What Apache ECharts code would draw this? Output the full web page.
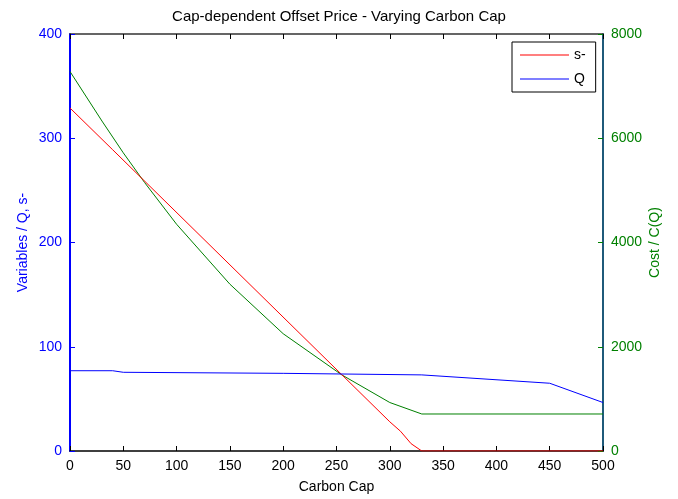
<!DOCTYPE html>
<html>
<head>
<meta charset="utf-8">
<script src="https://cdn.jsdelivr.net/npm/echarts@6/dist/echarts.min.js"></script>
<style>
  html, body { margin: 0; padding: 0; background: #fff; }
</style>
</head>
<body>
<div id="chart" style="width: 678px;height: 499px;"></div>
<script>
// values
const sMinusCap = [0, 30, 40, 300, 310, 320, 330, 500]
const sMinus = [329, 299, 289, 28, 19, 7, 0, 0]

const qCap = [0, 40, 50, 200, 330, 450, 500]
const q = [77, 77, 75.5, 74.5, 73, 65, 46.5]

const costCap = [0, 30, 50, 70, 100, 150, 200, 255, 300, 330, 500]
const cost = [7280, 6330, 5720, 5150, 4350, 3200, 2250, 1460, 930, 710, 710]

const pairs = (xs, ys) => xs.map((x, i) => [x, ys[i]])

const font = 'Liberation Sans, Arial, sans-serif'

const option = {
    backgroundColor: '#fff',
    animation: false,
    textStyle: { fontFamily: font },
    title: {
        text: 'Cap-dependent Offset Price - Varying Carbon Cap',
        left: 'center',
        top: 4,
        textStyle: { fontFamily: font, fontSize: 15, fontWeight: 'normal', color: '#000' }
    },
    legend: {
        orient: 'vertical',
        left: 512,
        top: 42,
        padding: [5, 10, 5, 8],
        icon: 'rect',
        itemWidth: 49,
        itemHeight: 1,
        itemGap: 8,
        borderColor: '#000',
        borderWidth: 1,
        backgroundColor: '#fff',
        textStyle: { fontFamily: font, fontSize: 14, color: '#000', lineHeight: 16 },
        data: ['s-', 'Q']
    },
    grid: { left: 70, right: 75, top: 34, bottom: 45 },
    xAxis: [
        {
            type: 'value',
            min: 0,
            max: 500,
            interval: 50,
            name: 'Carbon Cap',
            nameLocation: 'middle',
            nameGap: 29,
            nameMoveOverlap: false,
            nameTextStyle: { fontSize: 14, color: '#000', fontFamily: font },
            axisLine: { onZero: false, lineStyle: { color: '#000', width: 1.5 } },
            axisTick: { inside: true, length: 5, lineStyle: { color: '#000' } },
            axisLabel: { fontSize: 14, color: '#000', margin: 8, fontFamily: font },
            splitLine: { show: false }
        },
        {
            type: 'value',
            position: 'top',
            min: 0,
            max: 500,
            interval: 50,
            axisLine: { onZero: false, lineStyle: { color: '#333', width: 1.5 } },
            axisTick: { inside: true, length: 5, lineStyle: { color: '#000' } },
            axisLabel: { show: false },
            splitLine: { show: false }
        }
    ],
    yAxis: [
        {
            type: 'value',
            min: 0,
            max: 400,
            interval: 100,
            name: 'Variables / Q, s-',
            nameLocation: 'middle',
            nameGap: 40,
            nameMoveOverlap: false,
            nameTextStyle: { fontSize: 14, color: '#0000ff', fontFamily: font },
            axisLine: { show: true, onZero: false, lineStyle: { color: '#0000ff', width: 2 } },
            axisTick: { inside: true, length: 5, lineStyle: { color: '#0000ff' } },
            axisLabel: { fontSize: 14, color: '#0000ff', margin: 8, fontFamily: font },
            splitLine: { show: false }
        },
        {
            type: 'value',
            position: 'right',
            min: 0,
            max: 8000,
            interval: 2000,
            name: 'Cost / C(Q)',
            nameLocation: 'middle',
            nameGap: 45,
            nameMoveOverlap: false,
            nameTextStyle: { fontSize: 14, color: '#008000', fontFamily: font },
            axisLine: { show: true, onZero: false, lineStyle: { color: '#1f5a7a', width: 2 } },
            axisTick: { inside: true, length: 5, lineStyle: { color: '#008000' } },
            axisLabel: {
                fontSize: 14,
                color: '#008000',
                margin: 8,
                fontFamily: font,
                formatter: v => String(v)
            },
            splitLine: { show: false }
        }
    ],
    series: [
        {
            name: 's-',
            type: 'line',
            yAxisIndex: 0,
            symbol: 'none',
            lineStyle: { color: '#ff0000', width: 1 },
            itemStyle: { color: '#ff0000' },
            data: pairs(sMinusCap, sMinus),
            z: 3
        },
        {
            name: 'Q',
            type: 'line',
            yAxisIndex: 0,
            symbol: 'none',
            lineStyle: { color: '#0000ff', width: 1 },
            itemStyle: { color: '#0000ff' },
            data: pairs(qCap, q),
            z: 3
        },
        {
            name: 'C(Q)',
            type: 'line',
            yAxisIndex: 1,
            symbol: 'none',
            lineStyle: { color: '#008000', width: 1 },
            itemStyle: { color: '#008000' },
            data: pairs(costCap, cost),
            z: 2
        }
    ]
}

const chart = echarts.init(document.getElementById('chart'))
chart.setOption(option)
window.onresize = function () {
    chart.resize()
}
</script>
</body>
</html>
